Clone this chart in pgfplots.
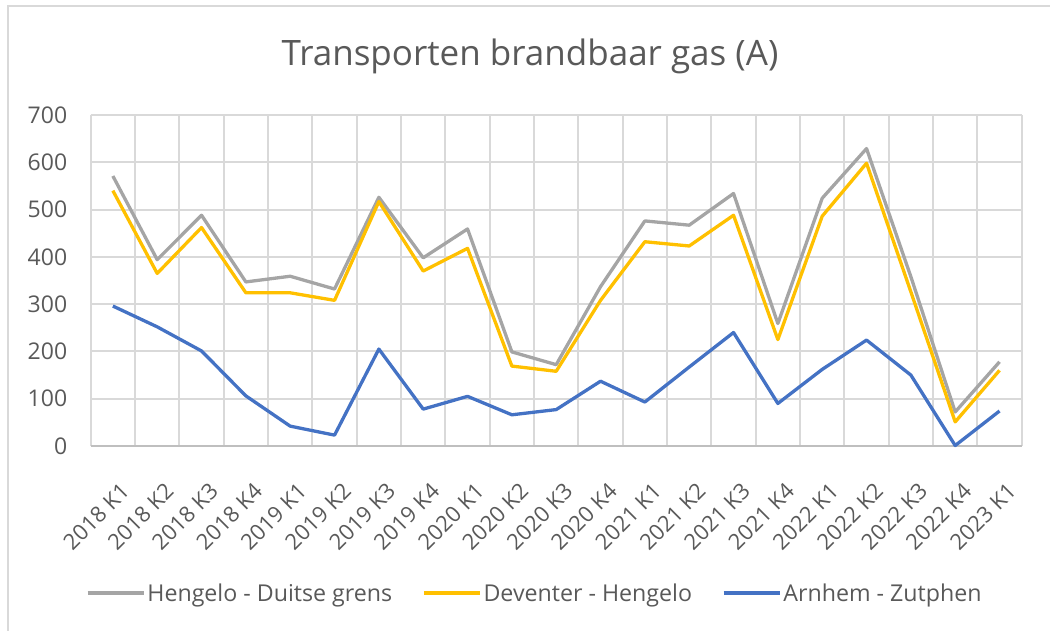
\documentclass[border=0pt]{standalone}
\usepackage{fontspec}
\setmainfont{Open Sans}
\usepackage{pgfplots}
\pgfplotsset{compat=1.18}
\definecolor{txt}{HTML}{595959}
\definecolor{gridc}{HTML}{D9D9D9}
\definecolor{axc}{HTML}{BFBFBF}
\definecolor{sgray}{HTML}{A5A5A5}
\definecolor{syellow}{HTML}{FFC000}
\definecolor{sblue}{HTML}{4472C4}
\begin{document}
\begin{tikzpicture}[x=1pt,y=1pt]
\useasboundingbox (0,0) rectangle (1050,630);
\draw[gridc, line width=1.8pt] (8.3,-5) -- (8.3,624) -- (1060,624);
\node[anchor=base, text=txt, font=\fontsize{35}{42}\selectfont, inner sep=0pt] at (530,564) {Transporten brandbaar gas (A)};
\begin{axis}[
  at={(90.7pt,184pt)}, anchor=south west,
  width=931pt, height=331pt, scale only axis,
  xmin=-0.5, xmax=20.5, ymin=0, ymax=700,
  ytick={0,100,...,700},
  xtick={0,1,...,20},
  xticklabels={2018 K1,2018 K2,2018 K3,2018 K4,2019 K1,2019 K2,2019 K3,2019 K4,2020 K1,2020 K2,2020 K3,2020 K4,2021 K1,2021 K2,2021 K3,2021 K4,2022 K1,2022 K2,2022 K3,2022 K4,2023 K1},
  minor xtick={-0.5,0.5,...,20.5},
  xminorgrids, ymajorgrids, xmajorgrids=false,
  grid style={gridc, line width=2pt},
  minor grid style={gridc, line width=2pt},
  axis line style={draw=none},
  major tick length=0pt, minor tick length=0pt,
  tick style={draw=none},
  /pgf/number format/assume math mode=true,
  ticklabel style={text=txt, font=\fontsize{23}{27}\selectfont},
  yticklabel style={anchor=east, xshift=-20pt},
  xticklabel style={rotate=45, anchor=east, font=\fontsize{22}{26}\selectfont, xshift=-17pt, yshift=-38pt},
  legend style={draw=none, at={(0.477,-0.444)}, anchor=center, font=\fontsize{23.2}{28}\selectfont, text=txt, fill=none,
    /tikz/every even column/.append style={column sep=28pt}},
  legend columns=3,
  legend image code/.code={\draw[#1] (0pt,0pt) -- (56pt,0pt);},
  clip=false,
]
\draw[axc, line width=2pt] (axis cs:-0.5,0) -- (axis cs:20.5,0);
\addplot[sgray, line width=3.3pt, line join=round] coordinates {(0,571) (1,394) (2,488) (3,347) (4,359) (5,332) (6,526) (7,398) (8,459) (9,199) (10,172) (11,337) (12,476) (13,467) (14,534) (15,259) (16,524) (17,629) (18,358) (19,72) (20,178)};
\addlegendentry{Hengelo - Duitse grens}
\addplot[syellow, line width=3.3pt, line join=round] coordinates {(0,540) (1,365) (2,462) (3,324) (4,324) (5,308) (6,517) (7,370) (8,418) (9,169) (10,158) (11,308) (12,432) (13,423) (14,488) (15,225) (16,486) (17,598) (18,326) (19,51) (20,160)};
\addlegendentry{Deventer - Hengelo}
\addplot[sblue, line width=3.3pt, line join=round] coordinates {(0,296) (1,252) (2,201) (3,106) (4,42) (5,23) (6,205) (7,78) (8,105) (9,66) (10,77) (11,137) (12,93) (13,167) (14,240) (15,90) (16,162) (17,224) (18,150) (19,1) (20,74)};
\addlegendentry{Arnhem - Zutphen}
\end{axis}
\end{tikzpicture}
\end{document}
